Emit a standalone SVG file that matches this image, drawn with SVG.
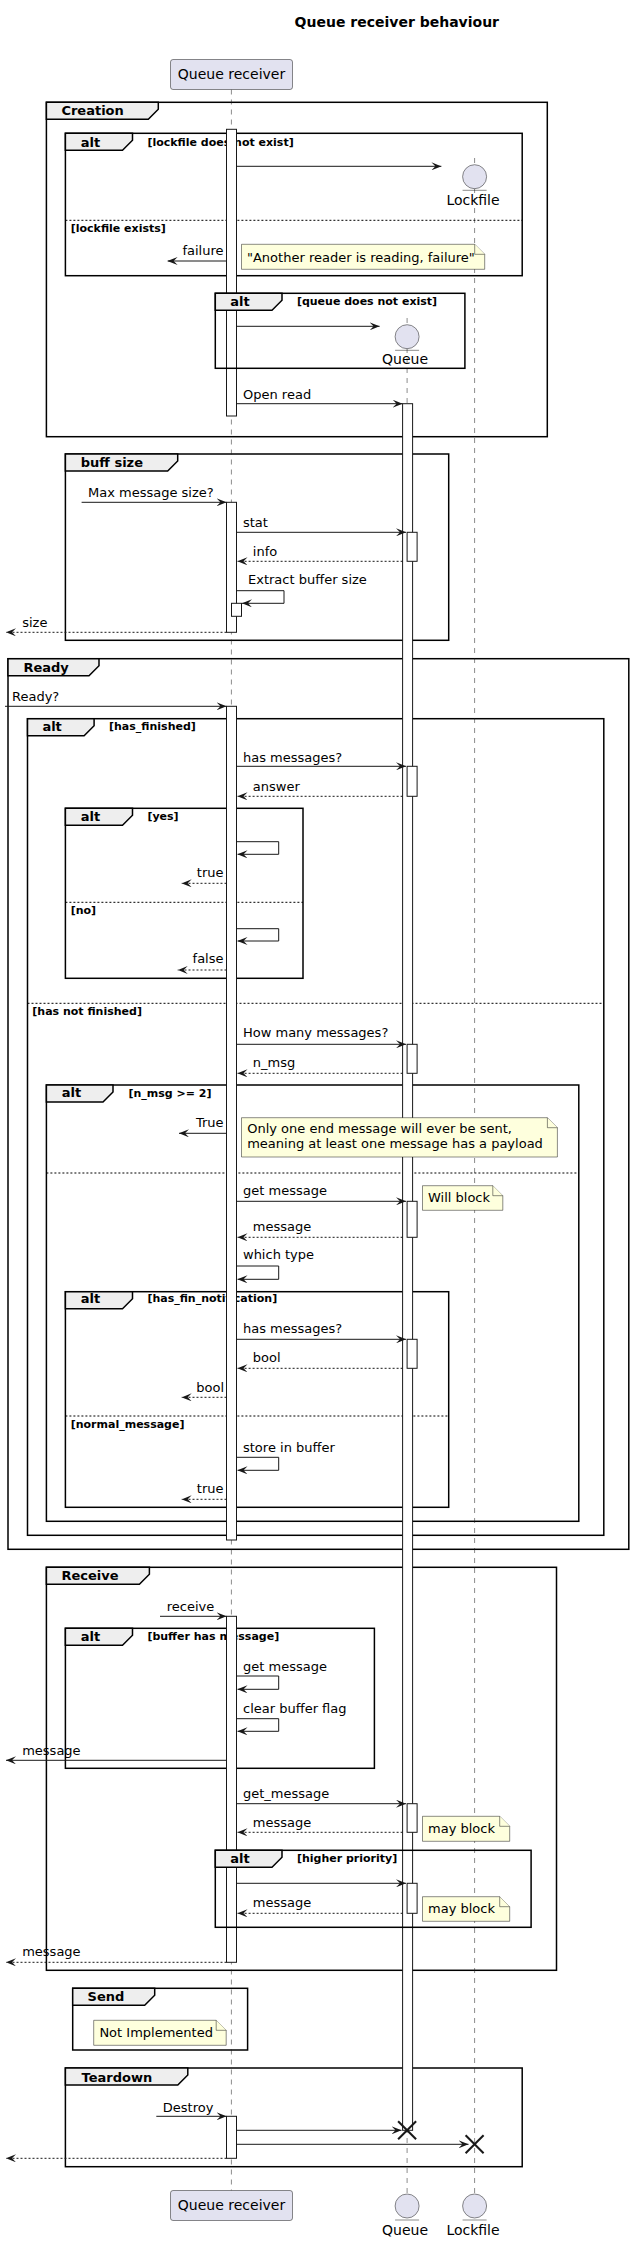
<svg xmlns="http://www.w3.org/2000/svg" width="630" height="2243" viewBox="0 0 630 2243">
<defs>
<marker id="ah" markerUnits="userSpaceOnUse" markerWidth="10" markerHeight="8" refX="10" refY="4" orient="auto">
<path d="M0,0 L10,4 L0,8 L4,4 Z" fill="#181818"/>
</marker>
<style>
.t{font-family:"DejaVu Sans",sans-serif;fill:#000}
.msg{font-size:13px}
.part{font-size:14px}
.gl{font-size:13px;font-weight:bold}
.cond{font-size:11px;font-weight:bold}
.frame{fill:none;stroke:#000;stroke-width:1.5}
.tab{fill:#EEEEEE;stroke:#000;stroke-width:1.5}
.sep{stroke:#000;stroke-width:1;stroke-dasharray:2,2}
.life{stroke:#181818;stroke-width:0.5;stroke-dasharray:5,5}
.act{fill:#FFFFFF;stroke:#181818;stroke-width:1}
.ln{fill:none;stroke:#181818;stroke-width:1;marker-end:url(#ah)}
.dl{fill:none;stroke:#181818;stroke-width:1;stroke-dasharray:2,2;marker-end:url(#ah)}
.note{fill:#FEFFDD;stroke:#181818;stroke-width:0.5}
.pbox{fill:#E2E2F0;stroke:#181818;stroke-width:0.5}
.x{stroke:#181818;stroke-width:2}
</style>
</defs>
<rect width="630" height="2243" fill="#FFFFFF"/>
<text class="t" x="396.8" y="27.3" font-size="14" font-weight="bold" text-anchor="middle">Queue receiver behaviour</text>

<g id="frames">
<g id="creation">
<rect class="frame" x="46.4" y="102.3" width="500.9" height="334.4"/>
<polygon class="tab" points="46.4,102.3 158.3,102.3 158.3,109.3 148.3,119.3 46.4,119.3"/>
<text class="t gl" x="61.4" y="115">Creation</text>
</g>
<g id="alt-lockfile">
<rect class="frame" x="65.4" y="133.3" width="456.8" height="142.4"/>
<polygon class="tab" points="65.4,133.3 132.5,133.3 132.5,140.3 122.5,150.3 65.4,150.3"/>
<text class="t gl" x="80.8" y="146.5">alt</text>
<text class="t cond" x="147.4" y="145.7">[lockfile does not exist]</text>
<line class="sep" x1="65.4" y1="220.3" x2="522.2" y2="220.3"/>
<text class="t cond" x="70.7" y="231.7">[lockfile exists]</text>
</g>
<g id="buff-size">
<rect class="frame" x="65.4" y="454" width="383.3" height="186.3"/>
<polygon class="tab" points="65.4,454 177.7,454 177.7,461 167.7,471 65.4,471"/>
<text class="t gl" x="80.8" y="467.3">buff size</text>
</g>
<g id="ready">
<rect class="frame" x="8" y="658.7" width="620.8" height="890.6"/>
<polygon class="tab" points="8,658.7 99,658.7 99,665.7 89,675.7 8,675.7"/>
<text class="t gl" x="23.4" y="671.7">Ready</text>
</g>
<g id="alt-has-finished">
<rect class="frame" x="27.5" y="718.7" width="576.3" height="816.6"/>
<polygon class="tab" points="27.5,718.7 94.1,718.7 94.1,725.7 84.1,735.7 27.5,735.7"/>
<text class="t gl" x="42.4" y="731">alt</text>
<text class="t cond" x="109" y="730">[has_finished]</text>
<line class="sep" x1="27.5" y1="1003.3" x2="603.8" y2="1003.3"/>
<text class="t cond" x="32.3" y="1015">[has not finished]</text>
</g>
<g id="alt-yes">
<rect class="frame" x="65.4" y="808.3" width="237.6" height="170"/>
<polygon class="tab" points="65.4,808.3 132.5,808.3 132.5,815.3 122.5,825.3 65.4,825.3"/>
<text class="t gl" x="80.8" y="821">alt</text>
<text class="t cond" x="147.4" y="820">[yes]</text>
<line class="sep" x1="65.4" y1="902.3" x2="303" y2="902.3"/>
<text class="t cond" x="70.7" y="914">[no]</text>
</g>
<g id="alt-nmsg">
<rect class="frame" x="46.4" y="1085" width="532.4" height="436.3"/>
<polygon class="tab" points="46.4,1085 113,1085 113,1092 103,1102 46.4,1102"/>
<text class="t gl" x="61.8" y="1097.3">alt</text>
<text class="t cond" x="128.4" y="1096.7">[n_msg &gt;= 2]</text>
<line class="sep" x1="46.4" y1="1173" x2="578.8" y2="1173"/>
</g>
<g id="alt-fin-notification">
<rect class="frame" x="65.4" y="1291.7" width="383.3" height="215.6"/>
<polygon class="tab" points="65.4,1291.7 132.5,1291.7 132.5,1298.7 122.5,1308.7 65.4,1308.7"/>
<text class="t gl" x="80.8" y="1303.3">alt</text>
<text class="t cond" x="147.4" y="1302.3">[has_fin_notification]</text>
<line class="sep" x1="65.4" y1="1416" x2="448.7" y2="1416"/>
<text class="t cond" x="70.7" y="1428.3">[normal_message]</text>
</g>
<g id="receive">
<rect class="frame" x="46.4" y="1567.3" width="510.1" height="403"/>
<polygon class="tab" points="46.4,1567.3 149.4,1567.3 149.4,1574.3 139.4,1584.3 46.4,1584.3"/>
<text class="t gl" x="61.4" y="1580">Receive</text>
</g>
<g id="alt-buffer">
<rect class="frame" x="65.4" y="1628.3" width="309" height="140"/>
<polygon class="tab" points="65.4,1628.3 132.5,1628.3 132.5,1635.3 122.5,1645.3 65.4,1645.3"/>
<text class="t gl" x="80.8" y="1641">alt</text>
<text class="t cond" x="147.4" y="1640">[buffer has message]</text>
</g>
<g id="send">
<rect class="frame" x="72.7" y="1988.3" width="174.9" height="61.7"/>
<polygon class="tab" points="72.7,1988.3 154.7,1988.3 154.7,1995.3 144.7,2005.3 72.7,2005.3"/>
<text class="t gl" x="87.6" y="2000.7">Send</text>
</g>
<g id="teardown">
<rect class="frame" x="65.4" y="2068" width="456.8" height="98.7"/>
<polygon class="tab" points="65.4,2068 187.8,2068 187.8,2075 177.8,2085 65.4,2085"/>
<text class="t gl" x="81.6" y="2081.7">Teardown</text>
</g>
</g>

<g id="lifelines">
<line class="life" x1="231.4" y1="89.5" x2="231.4" y2="2190.5"/>
<line class="life" x1="407.1" y1="318" x2="407.1" y2="2194"/>
<line class="life" x1="474.6" y1="158" x2="474.6" y2="2194"/>
</g>

<g id="activations">
<rect class="act" x="226.5" y="129.3" width="10" height="286.7"/>
<rect class="act" x="226.5" y="502.3" width="10" height="130"/>
<rect class="act" x="231.5" y="603.3" width="10" height="13"/>
<rect class="act" x="226.5" y="706.3" width="10" height="833.7"/>
<rect class="act" x="226.5" y="1616.3" width="10" height="346"/>
<rect class="act" x="226.5" y="2116.3" width="10" height="42"/>
<rect class="act" x="402.6" y="403.7" width="10" height="1726.6"/>
<rect class="act" x="407.1" y="532.3" width="10" height="29"/>
<rect class="act" x="407.1" y="766.3" width="10" height="30"/>
<rect class="act" x="407.1" y="1044.3" width="10" height="29"/>
<rect class="act" x="407.1" y="1201.3" width="10" height="36"/>
<rect class="act" x="407.1" y="1339.3" width="10" height="29"/>
<rect class="act" x="407.1" y="1803.7" width="10" height="28.6"/>
<rect class="act" x="407.1" y="1883.3" width="10" height="30"/>
</g>

<g id="frames-over">
<g id="alt-queue">
<rect class="frame" x="215.3" y="293.3" width="249.6" height="75"/>
<polygon class="tab" points="215.3,293.3 282,293.3 282,300.3 272,310.3 215.3,310.3"/>
<text class="t gl" x="230.2" y="305.7">alt</text>
<text class="t cond" x="296.9" y="305">[queue does not exist]</text>
</g>
<g id="alt-priority">
<rect class="frame" x="215.3" y="1850.3" width="315.8" height="77"/>
<polygon class="tab" points="215.3,1850.3 282,1850.3 282,1857.3 272,1867.3 215.3,1867.3"/>
<text class="t gl" x="230.2" y="1863.3">alt</text>
<text class="t cond" x="296.9" y="1862.3">[higher priority]</text>
</g>
</g>

<g id="connectors">
<line class="ln" x1="236.5" y1="166.3" x2="441.4" y2="166.3"/>
<line class="ln" x1="226.5" y1="261" x2="167.6" y2="261"/>
<text class="t msg" x="223.5" y="255" text-anchor="end">failure</text>
<line class="ln" x1="236.5" y1="326.3" x2="379.6" y2="326.3"/>
<line class="ln" x1="236.5" y1="403.7" x2="402.6" y2="403.7"/>
<text class="t msg" x="243" y="399">Open read</text>

<line class="ln" x1="81.6" y1="502.3" x2="226.5" y2="502.3"/>
<text class="t msg" x="88" y="497.3">Max message size?</text>
<line class="ln" x1="236.5" y1="532.3" x2="406" y2="532.3"/>
<text class="t msg" x="243" y="527.3">stat</text>
<line class="dl" x1="402.6" y1="561.3" x2="237.5" y2="561.3"/>
<text class="t msg" x="252.8" y="556">info</text>
<polyline class="ln" points="236.5,590.7 284,590.7 284,603.3 242,603.3"/>
<text class="t msg" x="248" y="584.3">Extract buffer size</text>
<line class="dl" x1="226.5" y1="632.3" x2="6" y2="632.3"/>
<text class="t msg" x="22.2" y="626.7">size</text>

<line class="ln" x1="5" y1="706.3" x2="226.5" y2="706.3"/>
<text class="t msg" x="12" y="701.3">Ready?</text>
<line class="ln" x1="236.5" y1="766.3" x2="406" y2="766.3"/>
<text class="t msg" x="243" y="761.7">has messages?</text>
<line class="dl" x1="402.6" y1="796.3" x2="237.5" y2="796.3"/>
<text class="t msg" x="252.8" y="790.7">answer</text>
<polyline class="ln" points="236.5,841.7 278.7,841.7 278.7,854.3 237.5,854.3"/>
<line class="dl" x1="226.5" y1="883.3" x2="181.7" y2="883.3"/>
<text class="t msg" x="223.5" y="877.3" text-anchor="end">true</text>
<polyline class="ln" points="236.5,928.7 278.7,928.7 278.7,941 237.5,941"/>
<line class="dl" x1="226.5" y1="970" x2="177.7" y2="970"/>
<text class="t msg" x="223.5" y="963.3" text-anchor="end">false</text>

<line class="ln" x1="236.5" y1="1044.3" x2="406" y2="1044.3"/>
<text class="t msg" x="243" y="1037.3">How many messages?</text>
<line class="dl" x1="402.6" y1="1073.3" x2="237.5" y2="1073.3"/>
<text class="t msg" x="252.8" y="1066.7">n_msg</text>
<line class="ln" x1="226.5" y1="1133.3" x2="179" y2="1133.3"/>
<text class="t msg" x="223.5" y="1127.3" text-anchor="end">True</text>
<line class="ln" x1="236.5" y1="1201.3" x2="406" y2="1201.3"/>
<text class="t msg" x="243" y="1195.3">get message</text>
<line class="dl" x1="402.6" y1="1237.3" x2="237.5" y2="1237.3"/>
<text class="t msg" x="252.8" y="1230.7">message</text>
<polyline class="ln" points="236.5,1266 278.7,1266 278.7,1279.3 237.5,1279.3"/>
<text class="t msg" x="243" y="1259.3">which type</text>
<line class="ln" x1="236.5" y1="1339.3" x2="406" y2="1339.3"/>
<text class="t msg" x="243" y="1332.7">has messages?</text>
<line class="dl" x1="402.6" y1="1368.3" x2="237.5" y2="1368.3"/>
<text class="t msg" x="252.8" y="1362">bool</text>
<line class="dl" x1="226.5" y1="1397.3" x2="181.7" y2="1397.3"/>
<text class="t msg" x="224" y="1391.7" text-anchor="end">bool</text>
<polyline class="ln" points="236.5,1457.3 278.7,1457.3 278.7,1470.3 237.5,1470.3"/>
<text class="t msg" x="243" y="1451.7">store in buffer</text>
<line class="dl" x1="226.5" y1="1499.3" x2="181.7" y2="1499.3"/>
<text class="t msg" x="223.5" y="1493.3" text-anchor="end">true</text>

<line class="ln" x1="160" y1="1616.3" x2="226.5" y2="1616.3"/>
<text class="t msg" x="166.8" y="1610.7">receive</text>
<polyline class="ln" points="236.5,1676 278.7,1676 278.7,1689.3 237.5,1689.3"/>
<text class="t msg" x="243" y="1670.7">get message</text>
<polyline class="ln" points="236.5,1718.7 278.7,1718.7 278.7,1731.3 237.5,1731.3"/>
<text class="t msg" x="243" y="1712.7">clear buffer flag</text>
<line class="ln" x1="226.5" y1="1760.3" x2="6" y2="1760.3"/>
<text class="t msg" x="22.2" y="1755">message</text>
<line class="ln" x1="236.5" y1="1803.7" x2="406" y2="1803.7"/>
<text class="t msg" x="243" y="1798.3">get_message</text>
<line class="dl" x1="402.6" y1="1832.3" x2="237.5" y2="1832.3"/>
<text class="t msg" x="252.8" y="1826.7">message</text>
<line class="ln" x1="236.5" y1="1883.3" x2="406" y2="1883.3"/>
<line class="dl" x1="402.6" y1="1913.3" x2="237.5" y2="1913.3"/>
<text class="t msg" x="252.8" y="1907.3">message</text>
<line class="dl" x1="226.5" y1="1962.3" x2="6" y2="1962.3"/>
<text class="t msg" x="22.2" y="1956">message</text>

<line class="ln" x1="156.3" y1="2116.3" x2="226.5" y2="2116.3"/>
<text class="t msg" x="162.8" y="2111.7">Destroy</text>
<line class="ln" x1="236.5" y1="2130.3" x2="401.5" y2="2130.3"/>
<line class="ln" x1="236.5" y1="2144.3" x2="468.5" y2="2144.3"/>
<line class="dl" x1="226.5" y1="2158.3" x2="6" y2="2158.3"/>
<g id="destroy-marks">
<line class="x" x1="398.1" y1="2121.3" x2="416.1" y2="2139.3"/>
<line class="x" x1="416.1" y1="2121.3" x2="398.1" y2="2139.3"/>
<line class="x" x1="465.6" y1="2135.3" x2="483.6" y2="2153.3"/>
<line class="x" x1="483.6" y1="2135.3" x2="465.6" y2="2153.3"/>
</g>
</g>

<g id="notes">
<g id="note-another-reader">
<path class="note" d="M241.5,244.3 L474.7,244.3 L484.7,254.3 L484.7,269.3 L241.5,269.3 Z"/>
<path class="note" d="M474.7,244.3 L474.7,254.3 L484.7,254.3" fill="none"/>
<text class="t msg" x="247" y="261.7">"Another reader is reading, failure"</text>
</g>
<g id="note-one-end">
<path class="note" d="M241.5,1117.7 L547.4,1117.7 L557.4,1127.7 L557.4,1157 L241.5,1157 Z"/>
<path class="note" d="M547.4,1117.7 L547.4,1127.7 L557.4,1127.7" fill="none"/>
<text class="t msg" x="247.2" y="1133.3">Only one end message will ever be sent,</text>
<text class="t msg" x="247.2" y="1148.3">meaning at least one message has a payload</text>
</g>
<g id="note-will-block">
<path class="note" d="M422.5,1185.7 L492.8,1185.7 L502.8,1195.7 L502.8,1210.3 L422.5,1210.3 Z"/>
<path class="note" d="M492.8,1185.7 L492.8,1195.7 L502.8,1195.7" fill="none"/>
<text class="t msg" x="428" y="1201.7">Will block</text>
</g>
<g id="note-may-block-1">
<path class="note" d="M422.5,1816.3 L499.7,1816.3 L509.7,1826.3 L509.7,1841.3 L422.5,1841.3 Z"/>
<path class="note" d="M499.7,1816.3 L499.7,1826.3 L509.7,1826.3" fill="none"/>
<text class="t msg" x="428" y="1833.3">may block</text>
</g>
<g id="note-may-block-2">
<path class="note" d="M422.5,1896.7 L499.7,1896.7 L509.7,1906.7 L509.7,1921.3 L422.5,1921.3 Z"/>
<path class="note" d="M499.7,1896.7 L499.7,1906.7 L509.7,1906.7" fill="none"/>
<text class="t msg" x="428" y="1913.3">may block</text>
</g>
<g id="note-not-implemented">
<path class="note" d="M93.7,2020.3 L216.2,2020.3 L226.2,2030.3 L226.2,2045.3 L93.7,2045.3 Z"/>
<path class="note" d="M216.2,2020.3 L216.2,2030.3 L226.2,2030.3" fill="none"/>
<text class="t msg" x="99.4" y="2036.7">Not Implemented</text>
</g>
</g>

<g id="queue-receiver-top">
<rect class="pbox" x="170.5" y="59.5" width="122" height="30" rx="2.5"/>
<text class="t part" x="231.5" y="79" text-anchor="middle">Queue receiver</text>
</g>
<g id="queue-receiver-bottom">
<rect class="pbox" x="170.5" y="2190.5" width="122" height="30" rx="2.5"/>
<text class="t part" x="231.5" y="2210" text-anchor="middle">Queue receiver</text>
</g>
<g id="lockfile-top">
<circle class="pbox" cx="474.6" cy="176.7" r="12"/>
<line x1="462.6" y1="190.3" x2="486.6" y2="190.3" stroke="#181818" stroke-width="0.5"/>
<text class="t part" x="473" y="205" text-anchor="middle">Lockfile</text>
</g>
<g id="queue-top">
<circle class="pbox" cx="407.1" cy="336.7" r="12"/>
<line x1="395.1" y1="350.3" x2="419.1" y2="350.3" stroke="#181818" stroke-width="0.5"/>
<text class="t part" x="405" y="364.3" text-anchor="middle">Queue</text>
</g>
<g id="queue-bottom">
<circle class="pbox" cx="407.1" cy="2206" r="12"/>
<line x1="395.1" y1="2220" x2="419.1" y2="2220" stroke="#181818" stroke-width="0.5"/>
<text class="t part" x="405" y="2235" text-anchor="middle">Queue</text>
</g>
<g id="lockfile-bottom">
<circle class="pbox" cx="474.6" cy="2206" r="12"/>
<line x1="462.6" y1="2220" x2="486.6" y2="2220" stroke="#181818" stroke-width="0.5"/>
<text class="t part" x="473" y="2235" text-anchor="middle">Lockfile</text>
</g>
</svg>
